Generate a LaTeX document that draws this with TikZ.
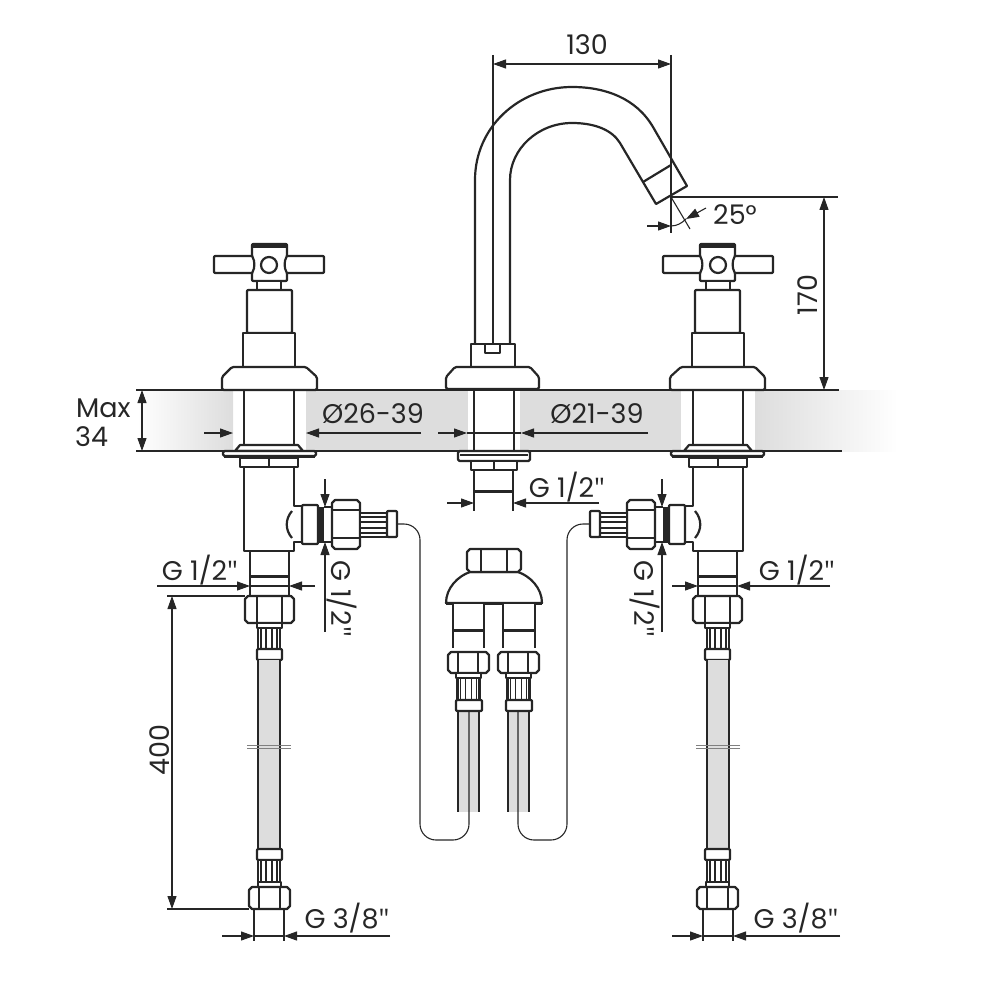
\documentclass[tikz,border=0pt]{standalone}
\usepackage{fontspec}
\setmainfont{Poppins}
\newfontfamily\inchfont{Open Sans}
\usetikzlibrary{arrows.meta}
\definecolor{ink}{RGB}{38,38,38}
\definecolor{bandgray}{RGB}{221,221,221}
\tikzset{
        part/.style={draw=ink,line width=2.2pt,fill=white,line join=round},
        outline/.style={draw=ink,line width=2.2pt,line join=round},
        fineline/.style={draw=ink,line width=1.1pt},
        dimline/.style={draw=ink,line width=1.1pt},
        dimtip/.style={-{Triangle[length=13pt,width=9pt]}},
        dimboth/.style={{Triangle[length=13pt,width=9pt]}-{Triangle[length=13pt,width=9pt]}},
        dimtext/.style={font=\fontsize{27}{27}\selectfont,text=ink,inner sep=0pt},
        }
\newcommand{\inch}{{\inchfont"}}

% nut: left, right, top, bottom, inner left, inner right
\newcommand{\hexnut}[6]{
	\draw [part] (#1+3,#3) -- (#2-3,#3) -- (#2,#3+3) -- (#2,#4-3) -- (#2-3,#4) -- (#1+3,#4) -- (#1,#4-3) -- (#1,#3+3) -- cycle;
	\draw [outline] (#5,#3) to (#5,#4);
	\draw [outline] (#6,#3) to (#6,#4);
}
% ribbed sleeve: centre, top, bottom
\newcommand{\ribsleeve}[3]{
	\draw [part] (#1-11,#2) rectangle (#1+11,#3);
	\foreach \ribx in {-8,-3,3,8} {
		\draw [fineline] (#1+\ribx,#2) to (#1+\ribx,#3);
	}
}
% one side valve, left hand, with its hose and tube
\newcommand{\sidevalve}{
	% handle..............................
	\draw [part,rounded corners=1pt] (214,256) rectangle (324,273);
	\draw [part,rounded corners=1pt] (252,244) -- (287,244) -- (287,256) .. controls (284,261) and (284,268) .. (287,273) -- (287,281) -- (252,281) -- (252,273) .. controls (255,268) and (255,261) .. (252,256) -- cycle;
	\fill [ink] (252,244) rectangle (287,248);
	\draw [outline] (269,265) circle (8);
	% stem................................
	\draw [part] (257,281) rectangle (281,290);
	\draw [part,rounded corners=1pt] (247,290) rectangle (292,333);
	\draw [part] (243,333) rectangle (295,368);
	% flange..............................
	\draw [part,rounded corners=1.5pt] (232,367) -- (306,367) -- (317,377) -- (317,390) -- (222,390) -- (222,377) -- cycle;
	% shaft and plate.....................
	\draw [outline] (244,391) to (244,445);
	\draw [outline] (294,391) to (294,445);
	\draw [part] (240,445) -- (298,445) -- (303,451) -- (235,451) -- cycle;
	\draw [part,rounded corners=1.5pt] (223,451) rectangle (316,456);
	\fill [ink] (224,455) rectangle (315,458);
	\draw [part] (240,458) rectangle (298,467);
	\draw [outline] (269,458) to (269,467);
	% body with outlet....................
	\draw [part] (294,467) -- (244,467) -- (244,551) -- (294,551) -- (294,542) -- (302,542) -- (302,506) -- (294,506) -- cycle;
	\draw [outline] (292,511) .. controls (285,519) and (285,530) .. (292,538);
	\draw [part,rounded corners=1pt] (302,505) rectangle (318,544);
	\fill [ink] (318,507) rectangle (324,543);
	\draw [fineline] (324,507) to (332,507);
	\draw [fineline] (324,542) to (332,542);
	\draw [part] (335,500) -- (357,500) -- (360,503) -- (360,546) -- (357,549) -- (335,549) -- (332,546) -- (332,503) -- cycle;
	\draw [outline] (332,510) to (360,510);
	\draw [outline] (332,538) to (360,538);
	\draw [part] (360,513) rectangle (387,537);
	\foreach \riby in {517,522,528,533} {
		\draw [fineline] (360,\riby) to (387,\riby);
	}
	\draw [part,rounded corners=1pt] (387,511) rectangle (397,537);
	% tube................................
	\draw [fineline,rounded corners=16pt] (397,524) -- (420,524) -- (420,840) -- (469,840) -- (469,711);
	% neck under the body.................
	\draw [part] (250,551) rectangle (289,576);
	\draw [line width=3pt,draw=ink] (250,576) to (289,576);
	\draw [fineline] (250,576) to (250,596);
	\draw [fineline] (289,576) to (289,596);
	\hexnut{245}{294}{596}{623}{257}{282}
	\draw [part] (257,623) rectangle (282,628);
	% hose................................
	\ribsleeve{269}{628}{650}
	\draw [part,rounded corners=1pt] (257,649) rectangle (282,660);
	\fill [bandgray] (258,660) rectangle (280,849);
	\draw [outline] (258,660) to (258,849);
	\draw [outline] (280,660) to (280,849);
	\draw [line width=0.9pt,draw=gray] (247,745.5) to (291,745.5);
	\draw [line width=0.9pt,draw=gray] (247,748) to (291,748);
	\draw [part,rounded corners=1pt] (257,849) rectangle (282,860);
	\ribsleeve{269}{860}{882}
	\draw [part] (258,882) rectangle (281,887);
	\hexnut{249}{290}{887}{909}{259}{280}
	% dimensions round the valve..........
	\draw [dimline,dimtip] (157,586) to (250,586);
	\draw [dimline,dimtip] (315,586) to (289,586);
	\draw [fineline] (250,586) to (289,586);
	\draw [dimline,dimtip] (325,479) to (325,507);
	\draw [dimline,dimtip] (325,632) to (325,542);
	\draw [dimline] (254,909) to (254,941);
	\draw [dimline] (284,909) to (284,941);
	\draw [fineline] (254,936) to (284,936);
}

\begin{document}
\begin{tikzpicture}[x=1pt,y=-1pt]
	\useasboundingbox (0,0) rectangle (1000,1000);

	% countertop band.....................
	\shade [left color=white,right color=bandgray] (137,390) rectangle (233,451);
	\fill [bandgray] (306,390) rectangle (468,451);
	\fill [bandgray] (520,390) rectangle (681,451);
	\shade [left color=bandgray,right color=white] (755,390) rectangle (898,451);
	\draw [dimline] (136,390) to (839,390);
	\draw [dimline] (136,451) to (842,451);

	% grey of the two middle hoses........
	\fill [bandgray] (458,711) rectangle (479,812);
	\fill [bandgray] (508,711) rectangle (529,812);

	% side valves.........................
	\sidevalve
	\begin{scope}[shift={(987,0)},xscale=-1]
		\sidevalve
	\end{scope}

	% spout...............................
	\draw [dimline] (493,55) to (493,344);
	\draw [outline] (475,345) -- (475,180) .. controls (475,127) and (519,87) .. (572,87) .. controls (605,87) and (636,98) .. (653,127) -- (687,186) -- (656,204) -- (643,182) -- (620,143) .. controls (612,130) and (595,123) .. (572,123) .. controls (538,123) and (510,149) .. (510,180) -- (510,345);
	\draw [outline] (643,182) to (671,165);

	% middle base.........................
	\draw [part] (471,344) rectangle (515,367);
	\draw [part] (485,344) rectangle (500,353);
	\draw [part,rounded corners=1.5pt] (455,367) -- (530,367) -- (539,377) -- (539,389) -- (446,389) -- (446,377) -- cycle;
	\draw [outline] (474,390) to (474,451);
	\draw [outline] (514,390) to (514,451);
	\draw [part,rounded corners=1.5pt] (458,451) rectangle (530,461);
	\draw [fineline] (460,455) to (528,455);
	\draw [part] (471,461) rectangle (517,470);
	\draw [outline] (494,461) to (494,470);
	\draw [part] (474,470) rectangle (513,491);
	\draw [line width=3pt,draw=ink] (474,491) to (513,491);
	\draw [dimline] (474,491) to (474,511);
	\draw [dimline] (513,491) to (513,511);

	% loose connector.....................
	\draw [part] (470,572) .. controls (458,576) and (446,588) .. (446,603) -- (542,603) .. controls (542,588) and (530,576) .. (518,572) -- cycle;
	\hexnut{467}{521}{549}{572}{481}{507}
	\draw [line width=3pt,draw=ink] (446,603) to (542,603);
	\draw [part] (453,603) rectangle (484,630);
	\draw [part] (503,603) rectangle (535,630);
	\draw [line width=3pt,draw=ink] (453,630) to (484,630);
	\draw [line width=3pt,draw=ink] (503,630) to (535,630);
	\foreach \stubx in {453,484,503,535} {
		\draw [fineline] (\stubx,630) to (\stubx,648);
	}
	\hexnut{448}{489}{652}{673}{458}{478}
	\hexnut{498}{539}{652}{673}{508}{528}
	\draw [part] (456,673) rectangle (481,678);
	\draw [part] (506,673) rectangle (531,678);
	\ribsleeve{468.5}{678}{700}
	\ribsleeve{518.5}{678}{700}
	\draw [part,rounded corners=1pt] (456,700) rectangle (482,711);
	\draw [part,rounded corners=1pt] (506,700) rectangle (532,711);
	\foreach \hosex in {458,479,508,529} {
		\draw [outline] (\hosex,711) to (\hosex,812);
	}

	% 130 and 170.........................
	\draw [dimline,dimboth] (493,64) to (671,64);
	\draw [dimline] (671,55) to (671,233);
	\draw [dimline,dimboth] (824,197) to (824,390);
	\draw [dimline] (671,197) to (838,197);

	% angle...............................
	\draw [dimline] (671,197) to (690,229);
	\draw [dimline,dimtip] (647,226) to (671,226);
	\draw [dimline,dimtip] (706,208) to (686,219);
	\draw [dimline] (671,226) .. controls (677,226) and (682,223) .. (686,219);

	% countertop dimensions...............
	\draw [dimline,dimboth] (142,390) to (142,451);
	\draw [dimline,dimtip] (204,433) to (233,433);
	\draw [dimline,dimtip] (421,433) to (306,433);
	\draw [dimline,dimtip] (438,433) to (467,433);
	\draw [dimline,dimtip] (648,433) to (521,433);
	\draw [fineline] (467,433) to (521,433);
	\draw [dimline,dimtip] (447,503) to (474,503);
	\draw [dimline,dimtip] (599,503) to (513,503);

	% 400 and G 3/8.......................
	\draw [dimline,dimboth] (172,596) to (172,909);
	\draw [dimline] (167,596) to (245,596);
	\draw [dimline] (167,909) to (249,909);
	\draw [dimline,dimtip] (222,936) to (254,936);
	\draw [dimline,dimtip] (390,936) to (284,936);
	\draw [dimline,dimtip] (672,936) to (703,936);
	\draw [dimline,dimtip] (840,936) to (733,936);

	% labels..............................
	\node [dimtext] (len130) at (587,45) {130};
	\node [dimtext] (ang25) at (735,215) {25°};
	\node [dimtext,rotate=90] (len170) at (808,295) {170};
	\node [dimtext,anchor=west] (maxtop) at (76,408) {Max};
	\node [dimtext,anchor=west] (maxval) at (75,437) {34};
	\node [dimtext] (dialeft) at (373,414) {Ø26-39};
	\node [dimtext] (diaright) at (597,414) {Ø21-39};
	\node [dimtext] (gmid) at (567,487) {G 1/2\inch};
	\node [dimtext] (gleft) at (200,570) {G 1/2\inch};
	\node [dimtext] (gright) at (797,570) {G 1/2\inch};
	\node [dimtext,rotate=-90] (gsideleft) at (342,599) {G 1/2\inch};
	\node [dimtext,rotate=-90] (gsideright) at (645,599) {G 1/2\inch};
	\node [dimtext,rotate=90] (len400) at (160,750) {400};
	\node [dimtext] (gbotleft) at (347,918) {G 3/8\inch};
	\node [dimtext] (gbotright) at (796,918) {G 3/8\inch};
\end{tikzpicture}
\end{document}
